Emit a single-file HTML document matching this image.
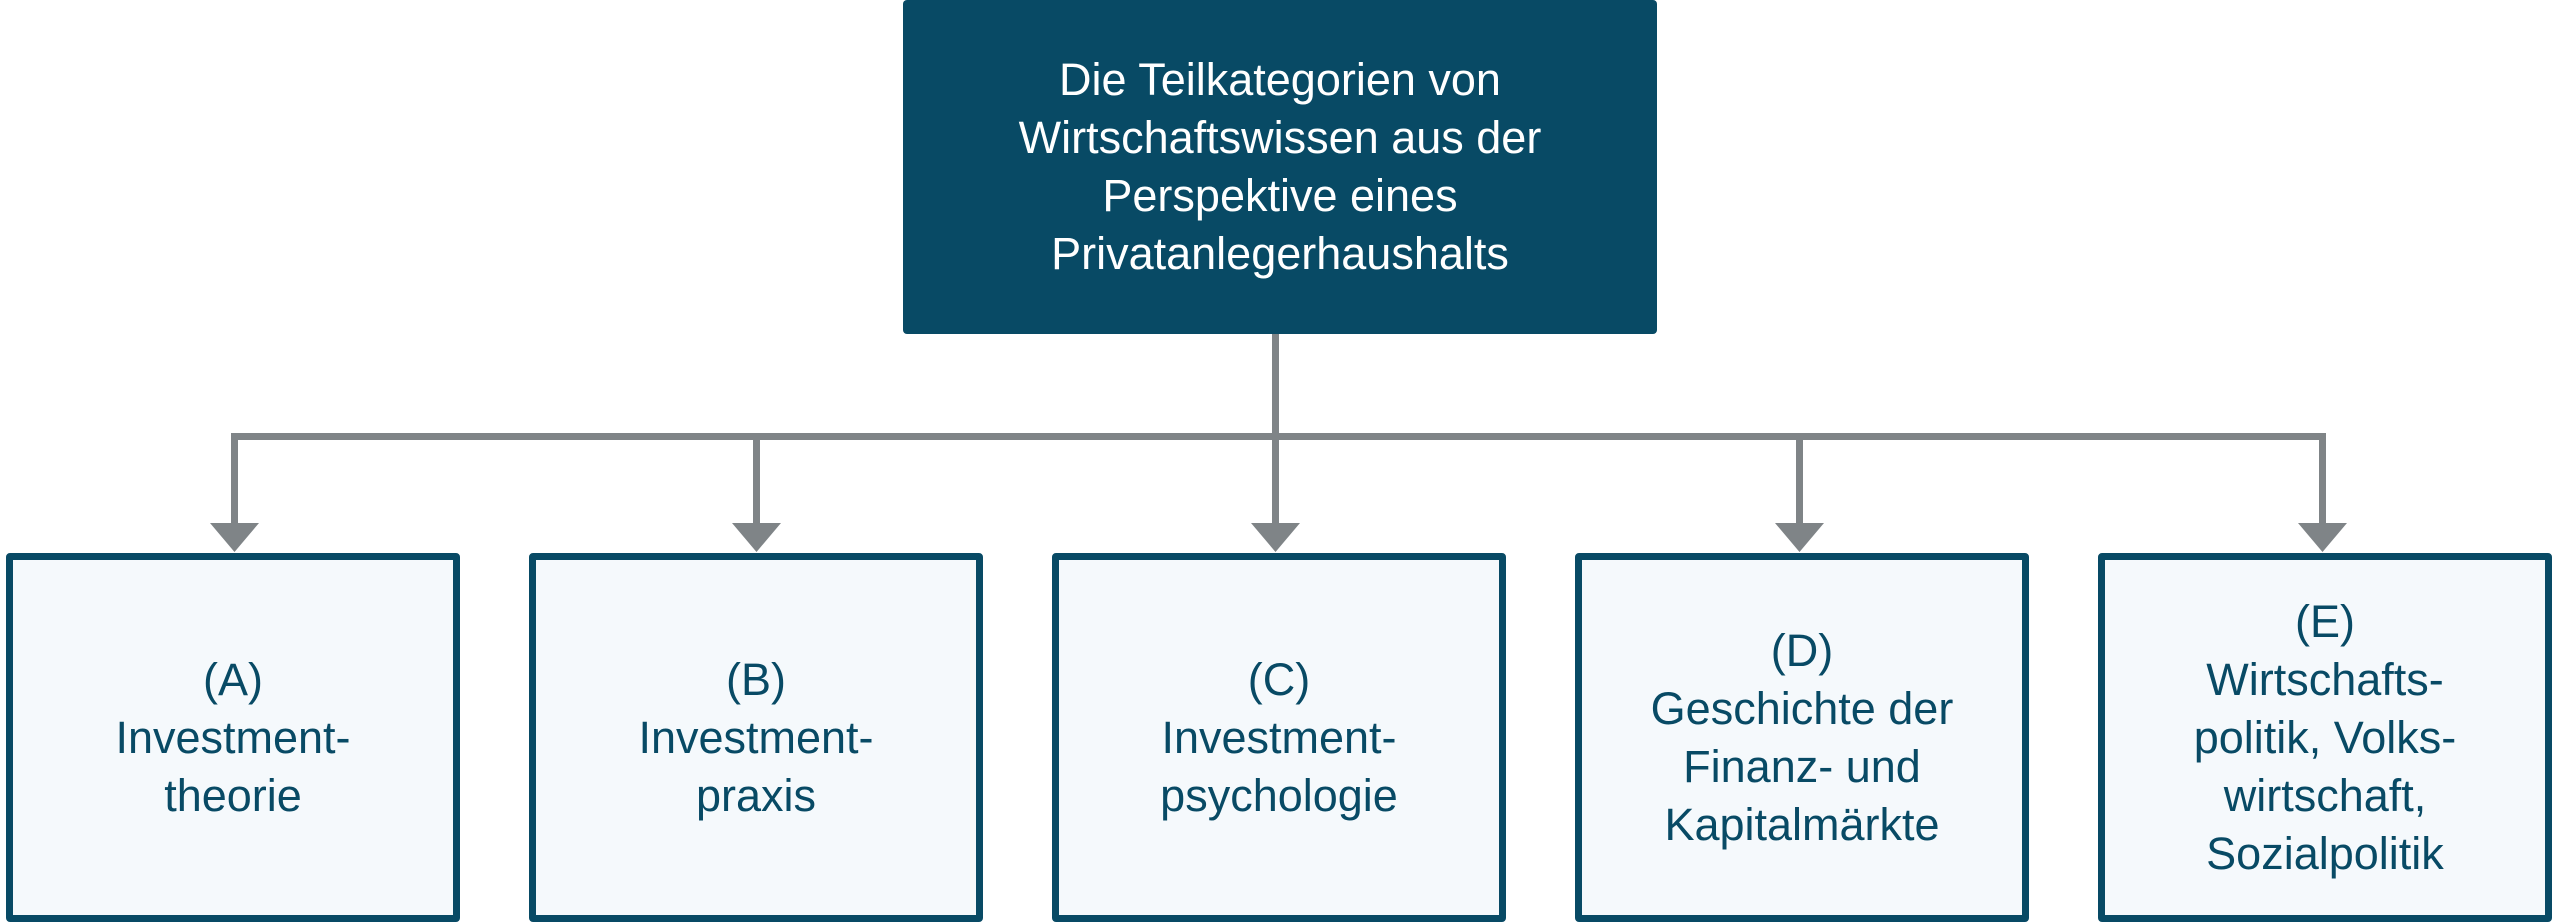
<!DOCTYPE html>
<html><head><meta charset="utf-8"><style>
html,body{margin:0;padding:0;background:#fff;}
body{width:2560px;height:923px;position:relative;overflow:hidden;font-family:"Liberation Sans",sans-serif;}
.top{position:absolute;left:903px;top:0;width:754px;height:334px;background:#084a65;border-radius:4px;color:#fff;display:flex;align-items:center;justify-content:center;text-align:center;font-size:45px;line-height:58px;}
.box{position:absolute;top:553px;width:440px;height:355px;border:7px solid #084a65;border-radius:4px;background:#f5f9fc;color:#084a65;display:flex;align-items:center;justify-content:center;text-align:center;font-size:45px;line-height:58px;}
.l{position:absolute;background:#7f8487;}
</style></head><body>
<div class="top"><div>Die Teilkategorien von<br>Wirtschaftswissen aus der<br>Perspektive eines<br>Privatanlegerhaushalts</div></div>
<div class="l" style="left:1272px;top:334px;width:7px;height:190px"></div>
<div class="l" style="left:231px;top:433px;width:2095px;height:7px"></div>
<svg width="2560" height="923" style="position:absolute;left:0;top:0">
<g fill="#7f8487">
<rect x="231" y="433" width="7" height="92"/><polygon points="210,523 259,523 234.5,552"/>
<rect x="753" y="433" width="7" height="92"/><polygon points="732,523 781,523 756.5,552"/>
<rect x="1272" y="433" width="7" height="92"/><polygon points="1251,523 1300,523 1275.5,552"/>
<rect x="1796" y="433" width="7" height="92"/><polygon points="1775,523 1824,523 1799.5,552"/>
<rect x="2319" y="433" width="7" height="92"/><polygon points="2298,523 2347,523 2322.5,552"/>
</g></svg>
<div class="box" style="left:6px"><div>(A)<br>Investment-<br>theorie</div></div>
<div class="box" style="left:529px"><div>(B)<br>Investment-<br>praxis</div></div>
<div class="box" style="left:1052px"><div>(C)<br>Investment-<br>psychologie</div></div>
<div class="box" style="left:1575px"><div>(D)<br>Geschichte der<br>Finanz- und<br>Kapitalmärkte</div></div>
<div class="box" style="left:2098px"><div>(E)<br>Wirtschafts-<br>politik, Volks-<br>wirtschaft,<br>Sozialpolitik</div></div>
</body></html>
